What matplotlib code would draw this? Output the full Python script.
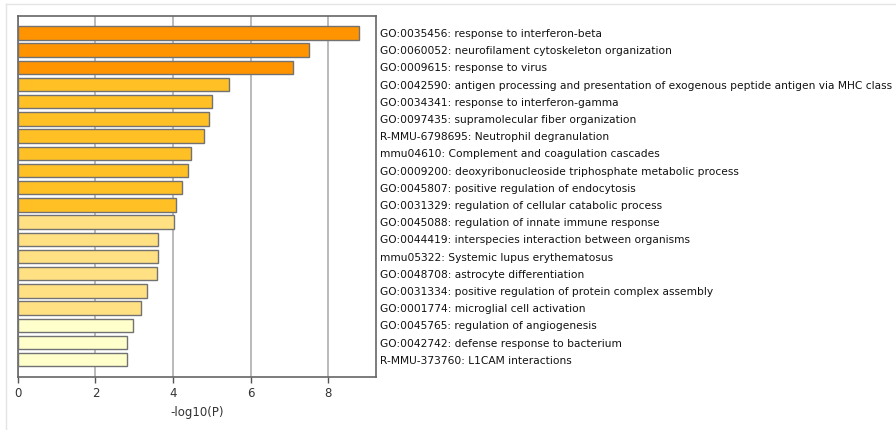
import matplotlib
matplotlib.use('Agg')
import matplotlib.pyplot as plt
from matplotlib.lines import Line2D

terms = [
    "GO:0035456: response to interferon-beta",
    "GO:0060052: neurofilament cytoskeleton organization",
    "GO:0009615: response to virus",
    "GO:0042590: antigen processing and presentation of exogenous peptide antigen via MHC class I",
    "GO:0034341: response to interferon-gamma",
    "GO:0097435: supramolecular fiber organization",
    "R-MMU-6798695: Neutrophil degranulation",
    "mmu04610: Complement and coagulation cascades",
    "GO:0009200: deoxyribonucleoside triphosphate metabolic process",
    "GO:0045807: positive regulation of endocytosis",
    "GO:0031329: regulation of cellular catabolic process",
    "GO:0045088: regulation of innate immune response",
    "GO:0044419: interspecies interaction between organisms",
    "mmu05322: Systemic lupus erythematosus",
    "GO:0048708: astrocyte differentiation",
    "GO:0031334: positive regulation of protein complex assembly",
    "GO:0001774: microglial cell activation",
    "GO:0045765: regulation of angiogenesis",
    "GO:0042742: defense response to bacterium",
    "R-MMU-373760: L1CAM interactions",
]
logp = [8.80, 7.50, 7.09, 5.44, 4.99, 4.93, 4.79, 4.45, 4.39, 4.23,
        4.08, 4.02, 3.62, 3.60, 3.58, 3.32, 3.17, 2.96, 2.82, 2.82]
# colour class of each bar (darker = more significant)
level = [0, 0, 0, 1, 1, 1, 1, 1, 1, 1, 1, 2, 2, 2, 2, 2, 2, 3, 3, 3]
palette = ['#ff9300', '#ffc025', '#ffe083', '#ffffcc']

fig = plt.figure(figsize=(8.96, 4.30), dpi=100)
ax = fig.add_axes([0.0198, 0.1233, 0.4, 0.8402])

ypos = list(range(len(terms)))
ax.barh(ypos, logp, height=0.78, color=[palette[l] for l in level],
        edgecolor='#727272', linewidth=1.0, zorder=3)

ax.set_ylim(len(terms), -1)
ax.set_xlim(0, 9.23)
ax.set_xticks([0, 2, 4, 6, 8])
ax.grid(axis='x', color='#b4b4b4', linewidth=1.3, zorder=0)
ax.set_axisbelow(True)

ax.yaxis.tick_right()
ax.set_yticks(ypos)
ax.set_yticklabels(terms, fontsize=7.7, color='#111111')
ax.tick_params(axis='y', length=0, pad=3)
ax.tick_params(axis='x', length=4, width=1, color='#555555', labelsize=8.5, labelcolor='#333333')
ax.set_xlabel('-log10(P)', fontsize=8.5, color='#333333', labelpad=4)
for sp in ax.spines.values():
    sp.set_color('#666666')
    sp.set_linewidth(1.2)

# faint outer frame
fig.add_artist(Line2D([6/896, 1], [1 - 4/430, 1 - 4/430], color='#e4e4e4', linewidth=1))
fig.add_artist(Line2D([6/896, 6/896], [0, 1 - 4/430], color='#e4e4e4', linewidth=1))

fig.savefig('out.png', dpi=100)
